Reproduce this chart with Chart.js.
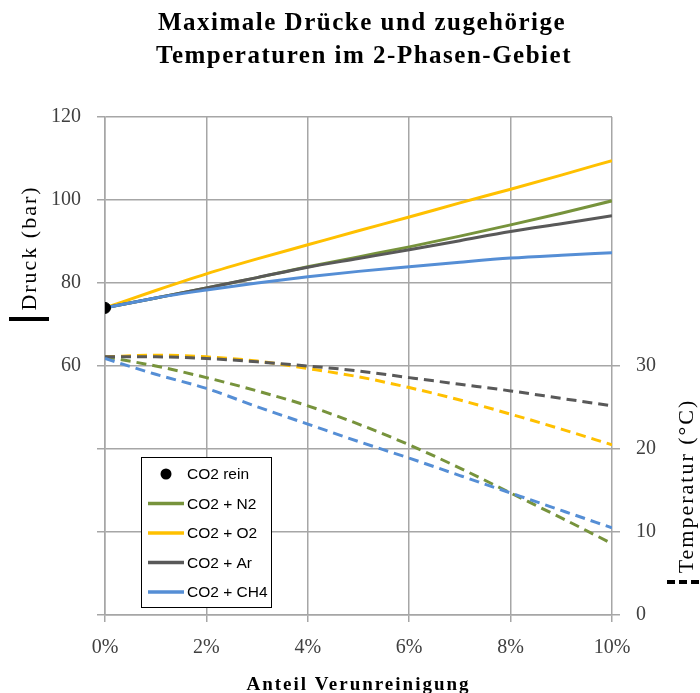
<!DOCTYPE html>
<html>
<head>
<meta charset="utf-8">
<script src="https://cdn.jsdelivr.net/npm/chart.js@4.4.1/dist/chart.umd.min.js"></script>
<style>
  html, body { margin: 0; padding: 0; background: #fff; }
</style>
</head>
<body>
<canvas id="chart" width="700" height="693"></canvas>
<script>
// x values: Anteil Verunreinigung in %
const anteil = [0, 1, 2, 3, 4, 5, 6, 7, 8, 9, 10];

// maximale Drücke (bar), linke Achse
const druckN2  = [74, 76.4, 78.8, 81.3, 83.9, 86.3, 88.7, 91.3, 94.0, 96.8, 99.8];
const druckO2  = [74, 78.2, 82.2, 85.8, 89.2, 92.6, 95.9, 99.3, 102.6, 106.0, 109.5];
const druckAr  = [74, 76.4, 78.8, 81.3, 83.8, 85.9, 88.0, 90.2, 92.4, 94.3, 96.2];
const druckCH4 = [74, 76.4, 78.3, 80.0, 81.5, 82.8, 83.9, 85.0, 86.0, 86.7, 87.3];

// zugehörige Temperaturen (°C), rechte Achse
const tempN2  = [31.1, 30.0, 28.6, 27.0, 25.2, 23.0, 20.5, 17.7, 14.7, 11.7, 8.6];
const tempO2  = [31.1, 31.3, 31.1, 30.6, 29.7, 28.7, 27.4, 25.9, 24.2, 22.4, 20.5];
const tempAr  = [31.1, 31.1, 30.9, 30.5, 30.0, 29.4, 28.6, 27.8, 27.0, 26.1, 25.2];
const tempCH4 = [30.9, 29.0, 27.3, 25.1, 23.0, 20.9, 18.9, 16.8, 14.7, 12.6, 10.5];

// reines CO2
const co2ReinAnteil = 0;
const co2ReinDruck = 74;

const seriesLabels = ['CO2 + N2', 'CO2 + O2', 'CO2 + Ar', 'CO2 + CH4'];
const seriesColors = ['#77933c', '#ffc000', '#595959', '#558ed5'];

const gridColor = '#a6a6a6';
const tickColor = '#404040';
const serif = '"Liberation Serif", "Times New Roman", serif';

const toPoints = (ys) => ys.map((y, i) => ({ x: anteil[i], y: y }));

const druckSeries = [druckN2, druckO2, druckAr, druckCH4];
const tempSeries = [tempN2, tempO2, tempAr, tempCH4];
// draw order: CH4 on top, then Ar, N2, O2
const drawOrder = [3, 4, 2, 1];

const datasets = [];
datasets.push({
  label: 'CO2 rein',
  data: [{ x: co2ReinAnteil, y: co2ReinDruck }],
  yAxisID: 'y',
  showLine: false,
  pointRadius: 5.5,
  pointBackgroundColor: '#000',
  pointBorderColor: '#000',
  borderColor: '#000',
  order: 0,
  isLegend: true
});
druckSeries.forEach((ys, i) => {
  datasets.push({
    label: seriesLabels[i],
    data: toPoints(ys),
    yAxisID: 'y',
    borderColor: seriesColors[i],
    borderWidth: 3,
    pointRadius: 0,
    cubicInterpolationMode: 'monotone',
    order: drawOrder[i],
    isLegend: true
  });
});
tempSeries.forEach((ys, i) => {
  datasets.push({
    label: seriesLabels[i] + ' (T)',
    data: toPoints(ys),
    yAxisID: 'y1',
    borderColor: seriesColors[i],
    borderWidth: 3,
    borderDash: [10, 6],
    pointRadius: 0,
    cubicInterpolationMode: 'monotone',
    order: 4 + drawOrder[i]
  });
});

// title, axis titles and legend box drawn by hand
const decorPlugin = {
  id: 'decor',
  afterDraw(chart) {
    const ctx = chart.ctx;
    const area = chart.chartArea;
    ctx.save();
    ctx.fillStyle = '#000';
    ctx.textAlign = 'center';
    ctx.textBaseline = 'alphabetic';

    // main title
    ctx.font = 'bold 25px ' + serif;
    ctx.letterSpacing = '1.5px';
    ctx.fillText('Maximale Drücke und zugehörige', 362, 30);
    ctx.fillText('Temperaturen im 2-Phasen-Gebiet', 364, 63);

    // x title
    ctx.font = 'bold 19px ' + serif;
    ctx.letterSpacing = '2px';
    ctx.fillText('Anteil Verunreinigung', (area.left + area.right) / 2, 690);

    // left title
    ctx.font = '22px ' + serif;
    ctx.letterSpacing = '2px';
    ctx.textBaseline = 'middle';
    ctx.save();
    ctx.translate(30, 248);
    ctx.rotate(-Math.PI / 2);
    ctx.fillText('Druck (bar)', 0, 0);
    ctx.restore();
    ctx.fillRect(9, 317, 40, 4);

    // right title
    ctx.save();
    ctx.translate(687, 486);
    ctx.rotate(-Math.PI / 2);
    ctx.fillText('Temperatur (°C)', 0, 0);
    ctx.restore();
    ctx.strokeStyle = '#000';
    ctx.lineWidth = 4;
    ctx.setLineDash([8, 4]);
    ctx.beginPath();
    ctx.moveTo(667, 582);
    ctx.lineTo(704, 582);
    ctx.stroke();
    ctx.setLineDash([]);
    ctx.letterSpacing = '0px';

    // legend
    const bx = area.left + 36, by = 457, bw = 130, bh = 150;
    ctx.fillStyle = '#fff';
    ctx.fillRect(bx, by, bw, bh);
    ctx.strokeStyle = '#000';
    ctx.lineWidth = 1;
    ctx.strokeRect(bx + 0.5, by + 0.5, bw, bh);
    ctx.font = '15.5px "Liberation Sans", Arial, sans-serif';
    ctx.textAlign = 'left';
    ctx.textBaseline = 'middle';
    const items = chart.data.datasets.filter(d => d.isLegend);
    items.forEach((d, i) => {
      const cy = by + 17 + i * 29.5;
      if (d.showLine === false) {
        ctx.fillStyle = d.pointBackgroundColor;
        ctx.beginPath();
        ctx.arc(bx + 25, cy, 5.5, 0, Math.PI * 2);
        ctx.fill();
      } else {
        ctx.strokeStyle = d.borderColor;
        ctx.lineWidth = 3.5;
        ctx.beginPath();
        ctx.moveTo(bx + 7, cy);
        ctx.lineTo(bx + 43, cy);
        ctx.stroke();
      }
      ctx.fillStyle = '#000';
      ctx.fillText(d.label, bx + 46, cy + 1);
    });
    ctx.restore();
  }
};

new Chart(document.getElementById('chart'), {
  type: 'line',
  data: { datasets: datasets },
  options: {
    responsive: false,
    animation: false,
    layout: { padding: { top: 117, left: 0, right: 0, bottom: 0 } },
    plugins: {
      legend: { display: false },
      title: { display: false },
      tooltip: { enabled: false }
    },
    scales: {
      x: {
        type: 'linear',
        min: 0,
        max: 10,
        afterFit: (s) => { s.height = 78; },
        grid: { color: gridColor, lineWidth: 1.5, tickLength: 7 },
        border: { color: gridColor, width: 1.5 },
        ticks: {
          stepSize: 2,
          padding: 14,
          color: tickColor,
          font: { family: serif, size: 20 },
          callback: (v) => v + '%'
        }
      },
      y: {
        position: 'left',
        min: 0,
        max: 120,
        afterFit: (s) => { s.width = 105; },
        grid: { color: gridColor, lineWidth: 1.5, tickLength: 8 },
        border: { color: gridColor, width: 1.5 },
        ticks: {
          stepSize: 20,
          padding: 16,
          color: tickColor,
          font: { family: serif, size: 20 },
          callback: (v) => v >= 60 ? v : ''
        }
      },
      y1: {
        position: 'right',
        min: 0,
        max: 60,
        afterFit: (s) => { s.width = 88; },
        grid: {
          drawOnChartArea: false,
          tickLength: 8,
          lineWidth: 1.5,
          color: (c) => (c.tick && c.tick.value <= 30) ? gridColor : 'rgba(0,0,0,0)'
        },
        border: { display: false },
        ticks: {
          stepSize: 10,
          padding: 16,
          color: tickColor,
          font: { family: serif, size: 20 },
          callback: (v) => v <= 30 ? v : ''
        }
      }
    }
  },
  plugins: [decorPlugin]
});
</script>
</body>
</html>
